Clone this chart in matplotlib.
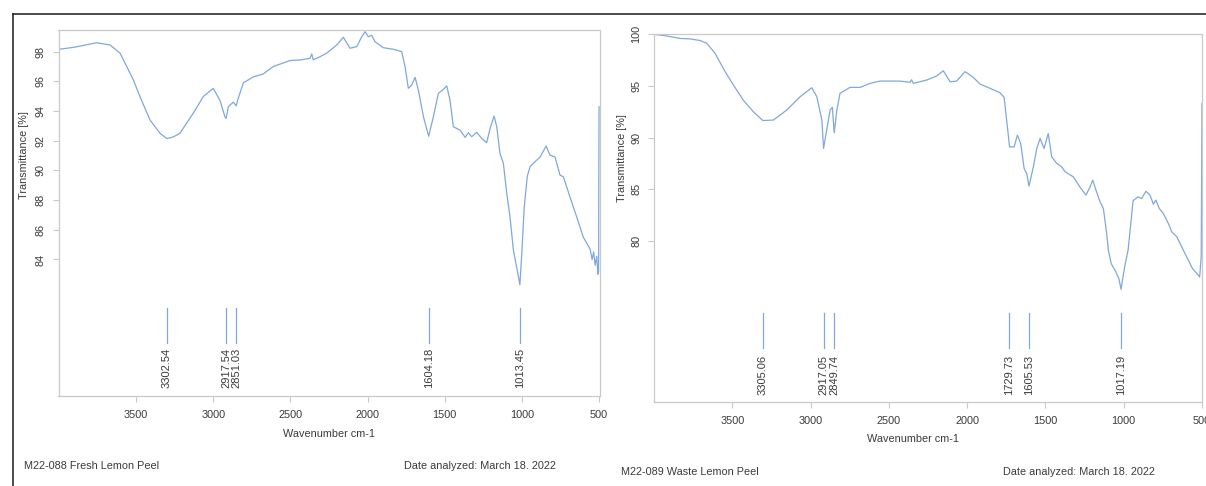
#!/usr/bin/env python3
"""FTIR spectra of fresh and waste lemon peel, side by side."""

import matplotlib

matplotlib.use("Agg")
import matplotlib.pyplot as plt
from matplotlib.lines import Line2D
from matplotlib.transforms import blended_transform_factory

plt.rcParams["font.family"] = ["Liberation Sans", "DejaVu Sans"]

# fresh lemon peel (M22-088)
wn_fresh = [
    4000, 3900, 3757, 3669, 3604, 3518, 3475, 3410, 3345, 3302, 3260, 3216,
    3130, 3065, 3000, 2956, 2924, 2917, 2902, 2870, 2851, 2840, 2805, 2740,
    2676, 2611, 2503, 2438, 2373, 2362, 2352, 2308, 2265, 2200, 2157, 2114,
    2070, 2038, 2016, 1995, 1973, 1952, 1898, 1833, 1779, 1757, 1736, 1714,
    1692, 1671, 1638, 1604, 1574, 1541, 1509, 1487, 1466, 1444, 1401, 1368,
    1347, 1325, 1293, 1260, 1228, 1206, 1180, 1163, 1142, 1120, 1098, 1077,
    1055, 1040, 1025, 1013, 1000, 985, 965, 947, 926, 882, 843, 818, 785,
    753, 731, 688, 645, 602, 558, 545, 535, 525, 515, 507, 503, 500,
]
t_fresh = [
    98.16, 98.3, 98.6, 98.45, 97.9, 96.1, 94.97, 93.4, 92.5, 92.15, 92.25, 92.5,
    93.85, 94.97, 95.53, 94.7, 93.6, 93.5, 94.3, 94.6, 94.35, 94.8, 95.9, 96.3,
    96.5, 97.0, 97.4, 97.44, 97.55, 97.85, 97.45, 97.66, 97.9, 98.45, 98.97, 98.23,
    98.34, 99.0, 99.35, 99.0, 99.1, 98.67, 98.27, 98.16, 98.0, 96.99, 95.53, 95.75,
    96.27, 95.42, 93.62, 92.3, 93.6, 95.2, 95.46, 95.69, 94.74, 92.94, 92.72, 92.23,
    92.54, 92.27, 92.56, 92.16, 91.87, 92.83, 93.66, 92.94, 91.15, 90.48, 88.45, 86.87,
    84.63, 83.8, 83.0, 82.3, 84.5, 87.5, 89.6, 90.25, 90.48, 90.9, 91.64, 91.03, 90.9,
    89.68, 89.57, 88.2, 86.87, 85.5, 84.7, 84.0, 84.5, 83.6, 84.2, 83.0, 83.2, 94.3,
]
peaks_fresh = [3302.54, 2917.54, 2851.03, 1604.18, 1013.45]

# waste lemon peel (M22-089)
wn_waste = [
    4000, 3918, 3833, 3769, 3706, 3663, 3610, 3546, 3493, 3429, 3365, 3305,
    3237, 3152, 3067, 2992, 2960, 2928, 2917, 2897, 2875, 2861, 2849, 2832,
    2812, 2748, 2684, 2620, 2556, 2428, 2365, 2355, 2344, 2259, 2195, 2152,
    2109, 2067, 2014, 1982, 1961, 1918, 1854, 1790, 1764, 1743, 1729, 1700,
    1679, 1658, 1636, 1619, 1605, 1577, 1555, 1534, 1509, 1482, 1460, 1428,
    1396, 1375, 1354, 1322, 1279, 1241, 1215, 1198, 1177, 1151, 1130, 1109,
    1098, 1080, 1050, 1030, 1017, 1005, 990, 972, 940, 908, 886, 858, 832,
    811, 794, 773, 747, 715, 693, 661, 629, 560, 530, 515, 505, 500,
]
t_waste = [
    100.0, 99.84, 99.6, 99.55, 99.4, 99.13, 98.16, 96.38, 95.1, 93.6, 92.5, 91.65,
    91.7, 92.67, 93.95, 94.83, 93.95, 91.7, 88.95, 90.73, 92.67, 92.93, 90.47, 92.67,
    94.28, 94.86, 94.86, 95.25, 95.47, 95.47, 95.35, 95.6, 95.25, 95.57, 95.96, 96.47,
    95.4, 95.47, 96.38, 96.06, 95.83, 95.18, 94.77, 94.34, 93.9, 91.05, 89.1, 89.1,
    90.24, 89.44, 87.0, 86.5, 85.3, 87.17, 88.95, 89.92, 88.95, 90.4, 88.14, 87.5,
    87.17, 86.7, 86.5, 86.2, 85.2, 84.43, 85.23, 85.88, 84.9, 83.78, 83.14, 80.72,
    79.1, 77.8, 77.0, 76.3, 75.3, 76.5, 77.8, 79.1, 83.9, 84.26, 84.1, 84.8, 84.43,
    83.56, 83.94, 83.14, 82.65, 81.69, 80.87, 80.4, 79.4, 77.3, 76.8, 76.5, 78.5, 93.3,
]
peaks_waste = [3305.06, 2917.05, 2849.74, 1729.73, 1605.53, 1017.19]

x_ticks = [3500, 3000, 2500, 2000, 1500, 1000, 500]

LINE = "#7fa8dc"
SPINE = "#c9c9c9"
TEXT = "#3a3a3a"
W, H = 1206, 486


def px_box(left, top, right, bottom):
    return [left / W, 1 - bottom / H, (right - left) / W, (bottom - top) / H]


def draw_panel(fig, box, wn, trans, peaks, xlim, ylim, yticks, ylab_xy,
               mark_y, tick_pad):
    ax = fig.add_axes(box)
    ax.plot(wn, trans, color=LINE, linewidth=0.9)
    ax.set_xlim(*xlim)
    ax.set_ylim(*ylim)
    ax.set_xticks(x_ticks)
    ax.set_yticks(yticks)
    for side in ("left", "right", "top", "bottom"):
        ax.spines[side].set_color(SPINE)
        ax.spines[side].set_linewidth(0.9)
    ax.tick_params(axis="both", color=SPINE, length=4, labelcolor=TEXT,
                   labelsize=7.8)
    ax.tick_params(axis="x", pad=tick_pad)
    ax.tick_params(axis="y", pad=5)
    for lab in ax.get_yticklabels():
        lab.set_rotation(90)
        lab.set_va("center")

    blend = blended_transform_factory(ax.transData, ax.transAxes)
    top, bottom, text_top = mark_y
    for p in peaks:
        ax.plot([p, p], [bottom, top], color=LINE, linewidth=0.9,
                transform=blend)
        ax.text(p, text_top, f"{p:.2f}", rotation=90, ha="center", va="top",
                fontsize=8, color=TEXT, transform=blend)

    fig.text(ylab_xy[0] / W, 1 - ylab_xy[1] / H, "Transmittance [%]",
             rotation=90, ha="center", va="center", fontsize=7.8, color=TEXT)
    return ax


def main():
    fig = plt.figure(figsize=(W / 100, H / 100), dpi=100)

    draw_panel(fig, px_box(58.5, 30, 599.5, 396), wn_fresh, t_fresh,
               peaks_fresh, (4003, 497), (74.8, 99.46),
               [84, 86, 88, 90, 92, 94, 96, 98], (24, 155),
               (0.240, 0.145, 0.132), 6)
    draw_panel(fig, px_box(654, 34.3, 1202, 402), wn_waste, t_waste,
               peaks_waste, (4000, 500), (64.4, 100),
               [80, 85, 90, 95, 100], (622, 158),
               (0.242, 0.147, 0.128), 6)

    fig.text(329 / W, 1 - 434 / H, "Wavenumber cm-1", ha="center",
             va="center", fontsize=7.8, color=TEXT)
    fig.text(913 / W, 1 - 439 / H, "Wavenumber cm-1", ha="center",
             va="center", fontsize=7.8, color=TEXT)

    fig.text(24 / W, 1 - 466 / H, "M22-088 Fresh Lemon Peel", ha="left",
             va="center", fontsize=7.8, color=TEXT)
    fig.text(404 / W, 1 - 466 / H, "Date analyzed: March 18. 2022",
             ha="left", va="center", fontsize=7.8, color=TEXT)
    fig.text(621 / W, 1 - 472 / H, "M22-089 Waste Lemon Peel", ha="left",
             va="center", fontsize=7.8, color=TEXT)
    fig.text(1003 / W, 1 - 472 / H, "Date analyzed: March 18. 2022",
             ha="left", va="center", fontsize=7.8, color=TEXT)

    # scanned page frame
    fig.add_artist(Line2D([13 / W, 1], [1 - 14.5 / H, 1 - 14.5 / H],
                          color="#1a1a1a", linewidth=1.1))
    fig.add_artist(Line2D([13 / W, 13 / W], [0, 1 - 14.5 / H],
                          color="#1a1a1a", linewidth=1.1))

    fig.savefig("out.png", dpi=100)


if __name__ == "__main__":
    main()
